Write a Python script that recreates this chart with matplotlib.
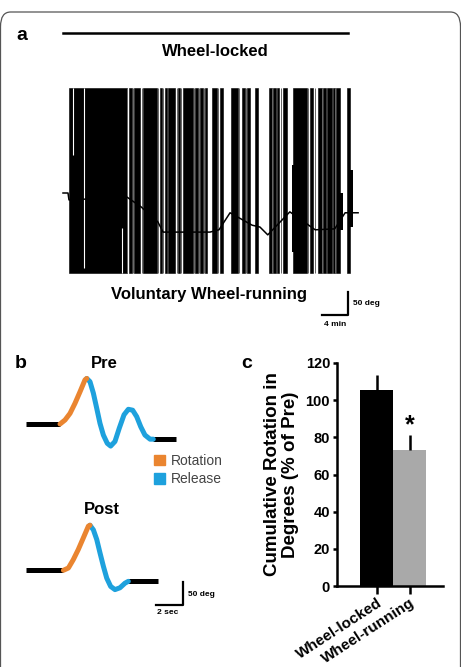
import matplotlib
matplotlib.use("Agg")
import matplotlib.pyplot as plt
from matplotlib.patches import Patch, FancyBboxPatch
from matplotlib.transforms import ScaledTranslation
import numpy as np

plt.rcParams['font.family'] = ['Liberation Sans', 'DejaVu Sans']

W, H = 461, 667

# ---- panel a: wheel-running trace (minutes, degrees) ----
band_start = [0.92, 10.15, 10.85, 12.26, 14.92, 15.69, 16.15, 17.74, 18.42, 20.31,
              21.08, 21.85, 22.88, 24.15, 25.80, 27.49, 28.35, 29.54, 31.74, 32.35,
              32.97, 33.89, 35.43, 38.00, 39.28, 40.05, 40.57, 41.49, 42.00, 43.74]
band_end = [9.85, 10.60, 11.85, 14.42, 15.18, 15.95, 17.23, 18.00, 20.05, 20.82,
            21.58, 22.11, 23.65, 24.66, 26.97, 28.00, 28.77, 30.05, 32.11, 32.77,
            33.28, 34.42, 37.49, 38.42, 39.80, 40.46, 41.34, 41.85, 42.62, 44.15]
swing_top = 228
swing_bottom = -174
gray_strokes = [9.92, 10.74, 12.08, 14.62, 15.46, 17.49, 18.15, 20.15, 20.92, 21.69,
                23.85, 27.15, 28.12, 32.23, 33.54, 37.69, 38.77, 39.92, 41.92]
white_t = [1.58, 3.23, 9.03]
white_lo = [82, -163, -174]
white_hi = [228, 228, -76]
patch_t0 = [35.2, 42.6, 44.15]
patch_t1 = [35.5, 43.0, 44.6]
patch_lo = [-128, -80, -74]
patch_hi = [61, 0, 50]
base_t = [0, 0.77, 0.92, 9.85, 12.0, 14.6, 15.4, 22.6, 24.0, 25.7, 29.1, 30.3,
          31.5, 34.9, 38.8, 41.8, 43.4, 45.4]
base_deg = [0, 0, -15, -9, -30, -63, -85, -85, -80, -43, -70, -74,
            -91, -41, -80, -78, -43, -43]
locked_period = (0, 43.85)

# ---- panel b: single rotation events (sec, degrees) ----
pre_rot_t = [2.52, 2.89, 3.26, 3.63, 4.0, 4.37, 4.5]
pre_rot_d = [0, 8.7, 23, 45, 70, 96, 99]
pre_rel_t = [4.5, 4.74, 4.99, 5.24, 5.48, 5.73, 6.02, 6.27, 6.59, 6.91, 7.26, 7.58,
             7.9, 8.2, 8.5, 8.81, 9.19, 9.43]
pre_rel_d = [99, 92, 67, 34, 1.5, -24, -42, -48, -38, -9, 20, 32,
             30, 16, -6, -24, -33, -33]
pre_start, pre_end = 0.0, 11.1
post_rot_t = [2.77, 3.14, 3.5, 3.87, 4.24, 4.62, 4.74]
post_rot_d = [0, 5, 23, 45, 70, 96, 98]
post_rel_t = [4.74, 4.99, 5.24, 5.48, 5.73, 5.98, 6.27, 6.59, 6.96, 7.33, 7.58]
post_rel_d = [98, 88, 67, 38, 9, -17, -35, -42, -38, -28, -24]
post_start, post_end = 0.0, 9.8

# ---- panel c: cumulative rotation ----
groups = ['Wheel-locked', 'Wheel-running']
means = [105.5, 73.0]
sems = [8.0, 8.0]

orange = '#ea8530'
blue = '#1ea1dd'

fig = plt.figure(figsize=(W / 100, H / 100), dpi=100)


def px_axes(x0, y0, x1, y1):
    ax = fig.add_axes([x0 / W, 1 - y1 / H, (x1 - x0) / W, (y1 - y0) / H])
    ax.set_axis_off()
    return ax


def ftext(x, y, s, **kw):
    fig.text(x / W, 1 - y / H, s, **kw)


# frame
frame = FancyBboxPatch((0.5 / W, -0.1), (W - 1) / W, 0.1 + 1 - 12 / H,
                       boxstyle="round,pad=0,rounding_size=0.022",
                       transform=fig.transFigure, fill=False,
                       edgecolor='#555555', linewidth=0.9)
fig.patches.append(frame)

# panel a
axa = px_axes(40, 20, 400, 340)
axa.set_xlim((40 - 63) / 6.5, (400 - 63) / 6.5)
axa.set_ylim((193 - 340) / 0.46, (193 - 20) / 0.46)
bs = np.array(band_start)
be = np.array(band_end)
axa.bar(bs, swing_top - swing_bottom, width=be - bs, bottom=swing_bottom,
        align='edge', color='black', edgecolor='black', linewidth=0.4)
axa.vlines(gray_strokes, swing_bottom, swing_top, color='0.4', linewidth=0.7)
axa.vlines(white_t, white_lo, white_hi, color='white', linewidth=0.8)
pt0 = np.array(patch_t0)
axa.bar(pt0, np.array(patch_hi) - np.array(patch_lo), width=np.array(patch_t1) - pt0,
        bottom=patch_lo, align='edge', color='black', linewidth=0)
axa.plot(base_t, base_deg, color='black', linewidth=1.1)
axa.plot(locked_period, [348, 348], color='black', linewidth=1.8)
# scale bar 4 min / 50 deg
axa.plot([locked_period[1] - 4, locked_period[1], locked_period[1]],
         [-265, -265, -215], color='black', linewidth=1.6)

ftext(22, 35, 'a', fontsize=14, fontweight='bold', ha='center', va='center')
ftext(215, 52, 'Wheel-locked', fontsize=12, fontweight='bold', ha='center', va='center')
ftext(209, 294, 'Voluntary Wheel-running', fontsize=12, fontweight='bold',
      ha='center', va='center')
ftext(353, 304, '50 deg', fontsize=6, fontweight='bold', ha='left', va='center')
ftext(335, 324, '4 min', fontsize=6, fontweight='bold', ha='center', va='center')

# panel b
lw = 3.6
axp = px_axes(20, 370, 200, 455)
axp.set_xlim((20 - 26) / 13.5, (200 - 26) / 13.5)
axp.set_ylim((424 - 455) / 0.46, (424 - 370) / 0.46)
axp.plot([pre_start, pre_rot_t[0]], [0, 0], color='black', lw=lw, solid_capstyle='butt')
axp.plot([pre_rel_t[-1], pre_end], [pre_rel_d[-1]] * 2, color='black', lw=lw,
         solid_capstyle='butt')
axp.plot(pre_rel_t, pre_rel_d, color=blue, lw=lw, solid_capstyle='round')
axp.plot(pre_rot_t, pre_rot_d, color=orange, lw=lw, solid_capstyle='round')

axq = px_axes(20, 515, 200, 620)
axq.set_xlim((20 - 26) / 13.5, (200 - 26) / 13.5)
axq.set_ylim((570.3 - 620) / 0.46, (570.3 - 515) / 0.46)
axq.plot([post_start, post_rot_t[0]], [0, 0], color='black', lw=lw, solid_capstyle='butt')
axq.plot([post_rel_t[-1], post_end], [post_rel_d[-1]] * 2, color='black', lw=lw,
         solid_capstyle='butt')
axq.plot(post_rel_t, post_rel_d, color=blue, lw=lw, solid_capstyle='round')
axq.plot(post_rot_t, post_rot_d, color=orange, lw=lw, solid_capstyle='round')
# scale bar 2 sec / 50 deg
axq.plot([9.63, 11.63, 11.63], [-75.4, -75.4, -25.4], color='black', linewidth=1.6)

ftext(21, 363, 'b', fontsize=14, fontweight='bold', ha='center', va='center')
ftext(104, 363, 'Pre', fontsize=12, fontweight='bold', ha='center', va='center')
ftext(102, 509, 'Post', fontsize=12, fontweight='bold', ha='center', va='center')
ftext(188, 595, '50 deg', fontsize=6, fontweight='bold', ha='left', va='center')
ftext(168, 613, '2 sec', fontsize=6, fontweight='bold', ha='center', va='center')

fig.legend(handles=[Patch(color=orange), Patch(color=blue)], labels=['Rotation', 'Release'],
           loc='upper left', bbox_to_anchor=(147 / W, 1 - 447 / H), frameon=False,
           fontsize=10, handlelength=0.8, handleheight=0.8, handletextpad=0.4,
           labelspacing=0.3, borderpad=0, labelcolor='#444444')

# panel c
axc = fig.add_axes([337 / W, 1 - 586 / H, 106 / W, 223 / H])
axc.bar([0, 1], means, width=1.0, color=['black', '#a9a9a9'], linewidth=0)
axc.errorbar([0, 1], means, yerr=[[0, 0], sems], fmt='none', ecolor='black',
             elinewidth=1.8, capsize=0)
axc.text(1, means[1] + sems[1] - 1, '*', ha='center', va='bottom', fontsize=18,
         fontweight='bold')
axc.set_xlim(-1.2, 2.0)
axc.set_ylim(0, 120)
axc.set_yticks(np.arange(0, 121, 20))
axc.set_xticks([0, 1])
axc.set_xticklabels(groups, rotation=33, ha='right', va='top', rotation_mode='anchor',
                    fontsize=11, fontweight='bold')
shift = ScaledTranslation(6 / 100, 0, fig.dpi_scale_trans)
for lab in axc.get_xticklabels():
    lab.set_transform(lab.get_transform() + shift)
for lab in axc.get_yticklabels():
    lab.set_fontweight('bold')
axc.tick_params(axis='y', direction='out', length=3, width=1.8, labelsize=10.5, pad=2)
axc.tick_params(axis='x', direction='out', length=6, width=1.8, pad=1)
axc.spines['top'].set_visible(False)
axc.spines['right'].set_visible(False)
axc.spines['left'].set_linewidth(1.8)
axc.spines['bottom'].set_linewidth(1.8)
axc.set_ylabel('Cumulative Rotation in\nDegrees (% of Pre)', fontsize=13.5,
               fontweight='bold', linespacing=1.1)
axc.yaxis.set_label_coords(-0.36, 0.5)
axc.patch.set_visible(False)

ftext(247, 363, 'c', fontsize=14, fontweight='bold', ha='center', va='center')

fig.savefig('out.png', dpi=100)
